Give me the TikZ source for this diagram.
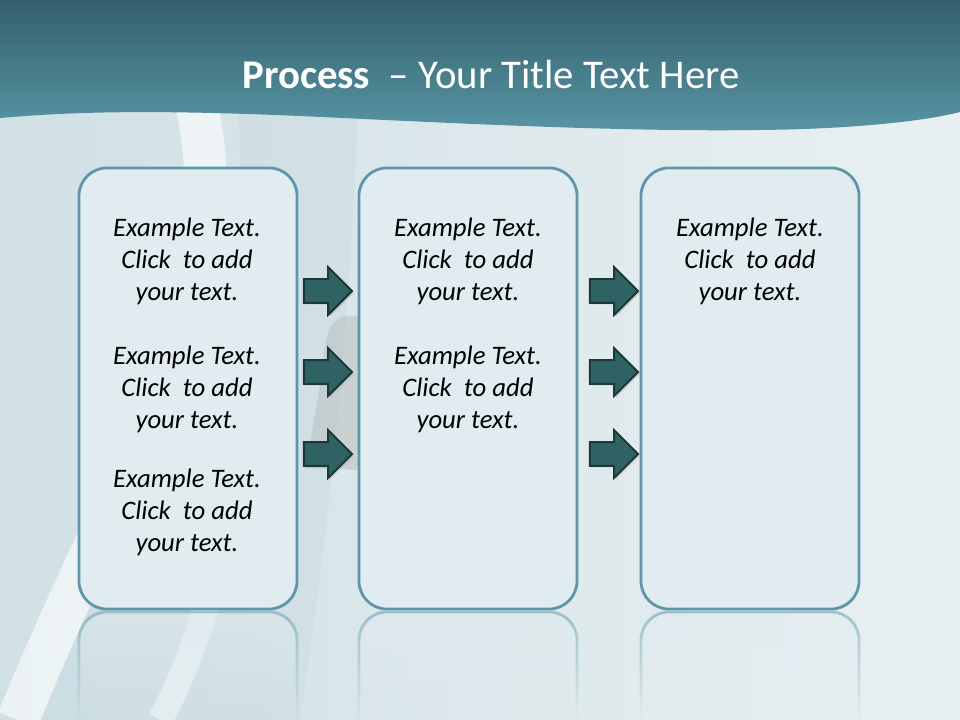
\documentclass[tikz,border=0pt]{standalone}
\usepackage{fontspec}
\setmainfont{Carlito}
\usetikzlibrary{positioning, shapes.arrows, shadows, fadings}

\definecolor{hdtop}{HTML}{34606C}
\definecolor{hdbot}{HTML}{5895A4}
\definecolor{bgleft}{HTML}{D0E0E5}
\definecolor{bgright}{HTML}{E9F0F2}
\definecolor{bgdark}{HTML}{C3D7DE}
\definecolor{boxline}{HTML}{5D97A9}
\definecolor{boxfill}{HTML}{E1ECF1}
\definecolor{arrfill}{HTML}{2F6363}
\definecolor{arrline}{HTML}{1C3838}

\newcommand{\clicktext}{Example Text.\\Click~ to add\\your text.}

\tikzset{
  stagebox/.style={draw=boxline, fill=boxfill, line width=2pt, rounded corners=0.7cm,
    minimum width=5.45cm, minimum height=11.025cm, inner sep=0},
  stagetext/.style={align=center, font=\itshape\fontsize{19}{22.8}\selectfont, text=black},
  flowarrow/.style={single arrow, draw=arrline, fill=arrfill, line width=1.4pt,
    minimum height=1.2cm, single arrow head extend=0.3cm, inner xsep=0, inner ysep=0.27cm,
    drop shadow={shadow xshift=1.2pt, shadow yshift=-1.2pt, opacity=0.35}},
  reflect/.style={draw=boxline, fill=boxfill, line width=2pt, rounded corners=0.7cm,
    path fading=south, opacity=0.5},
}

\begin{document}
\begin{tikzpicture}[x=0.025cm, y=0.025cm]
\useasboundingbox (0,0) rectangle (960,720);

% background
\shade[left color=bgleft, right color=bgright] (0,0) rectangle (960,720);
\fill[bgdark, opacity=0.35] (237,610) .. controls (262,420) and (130,230) .. (40,0) -- (300,0)
  .. controls (330,200) and (350,400) .. (358,610) -- cycle;
\draw[white, opacity=0.6, line width=30pt] (197,612) .. controls (240,420) and (110,230) .. (18,0);
\draw[white, opacity=0.45, line width=18pt] (255,420) .. controls (245,250) and (215,100) .. (160,0);
\fill[gray!60, opacity=0.4] (362,404) -- (345,404) .. controls (330,400) and (326,385) .. (324,365)
  .. controls (320,330) and (312,290) .. (306,252) -- (362,250) -- cycle;

% header
\shade[top color=hdtop, bottom color=hdbot] (0,720) -- (0,602)
  .. controls (90,610) and (180,609) .. (300,604)
  .. controls (450,597) and (620,588) .. (760,590)
  .. controls (860,591) and (930,600) .. (960,608) -- (960,720) -- cycle;
\node[font=\fontsize{29}{33}\selectfont, text=white] (title) at (491,645)
  {\textbf{Process}~ -- Your Title Text Here};

% reflections
\foreach \cx in {188,468,750}
  \path[reflect] (\cx-109,0) -- (\cx-109,108) -- (\cx+109,108) -- (\cx+109,0);

% boxes
\node[stagebox] (boxA) at (188,331.5) {};
\node[stagebox] (boxB) at (468,331.5) {};
\node[stagebox] (boxC) at (750,331.5) {};

\node[stagetext] (txtA1) at (187,459) {\clicktext};
\node[stagetext] (txtA2) at (187,331) {\clicktext};
\node[stagetext] (txtA3) at (187,208) {\clicktext};
\node[stagetext] (txtB1) at (468,459) {\clicktext};
\node[stagetext] (txtB2) at (468,331) {\clicktext};
\node[stagetext] (txtC1) at (750,459) {\clicktext};

% arrows
\foreach \ay [count=\i] in {429,348,266} {
  \node[flowarrow] (arrA\i) at (322,\ay) {};
  \node[flowarrow] (arrB\i) at (608,\ay) {};
}
\end{tikzpicture}
\end{document}
